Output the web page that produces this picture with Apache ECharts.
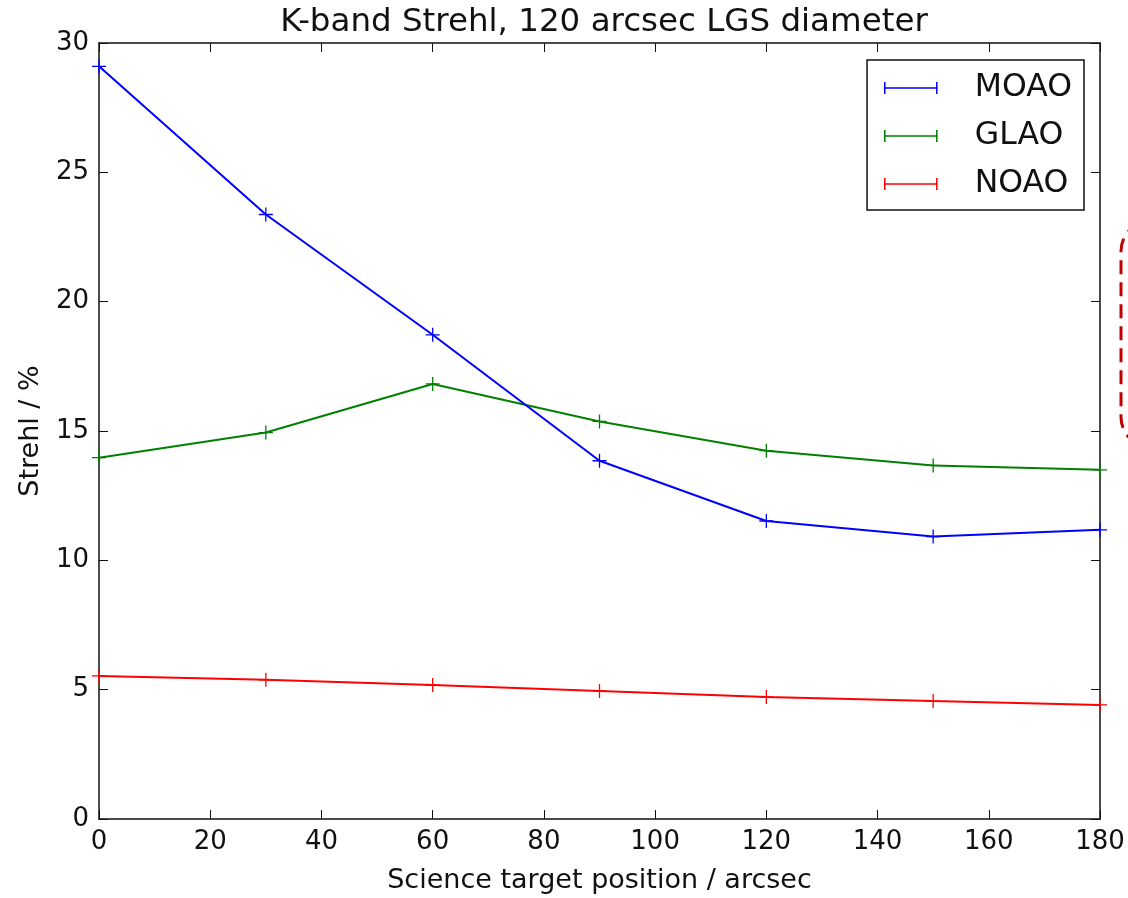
<!DOCTYPE html>
<html>
<head>
<meta charset="utf-8">
<script src="https://cdn.jsdelivr.net/npm/echarts@6/dist/echarts.min.js"></script>
<style>html,body{margin:0;padding:0;background:#fff}#c{width:1128px;height:898px}</style>
</head>
<body>
<div id="c"></div>
<script>
const positions = [0, 30, 60, 90, 120, 150, 180];
const moao = [29.1, 23.37, 18.72, 13.85, 11.52, 10.92, 11.18];
const glao = [13.97, 14.94, 16.82, 15.37, 14.24, 13.67, 13.5];
const noao = [5.53, 5.38, 5.18, 4.95, 4.72, 4.56, 4.41];
const seriesNames = ['MOAO', 'GLAO', 'NOAO'];
const seriesColors = ['#0000ff', '#008000', '#ff0000'];
const titleText = 'K-band Strehl, 120 arcsec LGS diameter';
const xName = 'Science target position / arcsec';
const yName = 'Strehl / %';

const font = 'DejaVu Sans';
const plus = 'path://M0,5 L10,5 M5,0 L5,10';
const legendIcon = 'path://M0,6 L54,6 M1,0 L1,12 M53,0 L53,12';

const chart = echarts.init(document.getElementById('c'), null, {renderer: 'canvas'});
const allSeries = [moao, glao, noao].map((vals, i) => ({
  name: seriesNames[i],
  type: 'line',
  data: positions.map((p, j) => [p, vals[j]]),
  symbol: plus,
  symbolSize: 14,
  showSymbol: true,
  lineStyle: {color: seriesColors[i], width: 2},
  itemStyle: {color: 'transparent', borderColor: seriesColors[i], borderWidth: 1.3},
  emphasis: {disabled: true},
  animation: false,
  z: 3 - i + 2
}));

const axisCommon = {
  axisLine: {show: true, onZero: false, lineStyle: {color: '#111', width: 1.5}},
  axisTick: {show: true, inside: true, length: 9, lineStyle: {color: '#111', width: 1}},
  splitLine: {show: false}
};

chart.setOption({
  backgroundColor: '#fff',
  animation: false,
  title: {
    text: titleText, left: 599, top: 1, textAlign: 'center',
    textStyle: {fontFamily: font, fontSize: 32.5, fontWeight: 'normal', color: '#111'}
  },
  grid: {left: 99, right: 28, top: 43, bottom: 79, containLabel: false, outerBoundsMode: 'none'},
  legend: {
    orient: 'vertical', right: 44, top: 60,
    padding: [12, 12, 10, 16],
    itemWidth: 56, itemHeight: 12, itemGap: 16,
    borderColor: '#111', borderWidth: 1.5, borderRadius: 0,
    backgroundColor: '#fff',
    textStyle: {fontFamily: font, fontSize: 31.5, color: '#111', padding: [0, 0, 0, 31]},
    data: seriesNames.map((n, i) => ({
      name: n, icon: legendIcon,
      itemStyle: {color: 'transparent', borderColor: seriesColors[i], borderWidth: 1.5}
    }))
  },
  xAxis: [
    Object.assign({
      type: 'value', min: 0, max: 180, interval: 20, position: 'bottom',
      name: xName, nameLocation: 'middle', nameGap: 48,
      nameTextStyle: {fontFamily: font, fontSize: 27, color: '#111'},
      axisLabel: {fontFamily: font, fontSize: 26, color: '#111', margin: 10}
    }, axisCommon),
    Object.assign({
      type: 'value', min: 0, max: 180, interval: 20, position: 'top',
      axisLabel: {show: false}
    }, axisCommon)
  ],
  yAxis: [
    Object.assign({
      type: 'value', min: 0, max: 30, interval: 5, position: 'left',
      name: yName, nameLocation: 'middle', nameGap: 55, nameRotate: 90,
      nameTextStyle: {fontFamily: font, fontSize: 27, color: '#111'},
      axisLabel: {fontFamily: font, fontSize: 26, color: '#111', margin: 10}
    }, axisCommon),
    Object.assign({
      type: 'value', min: 0, max: 30, interval: 5, position: 'right',
      axisLabel: {show: false}
    }, axisCommon)
  ],
  series: allSeries,
  graphic: [{
    type: 'rect',
    shape: {x: 1121, y: 221, width: 220, height: 226, r: 30},
    style: {fill: 'none', stroke: '#c00000', lineWidth: 3, lineDash: [14, 8]},
    silent: true
  }]
});
</script>
</body>
</html>
